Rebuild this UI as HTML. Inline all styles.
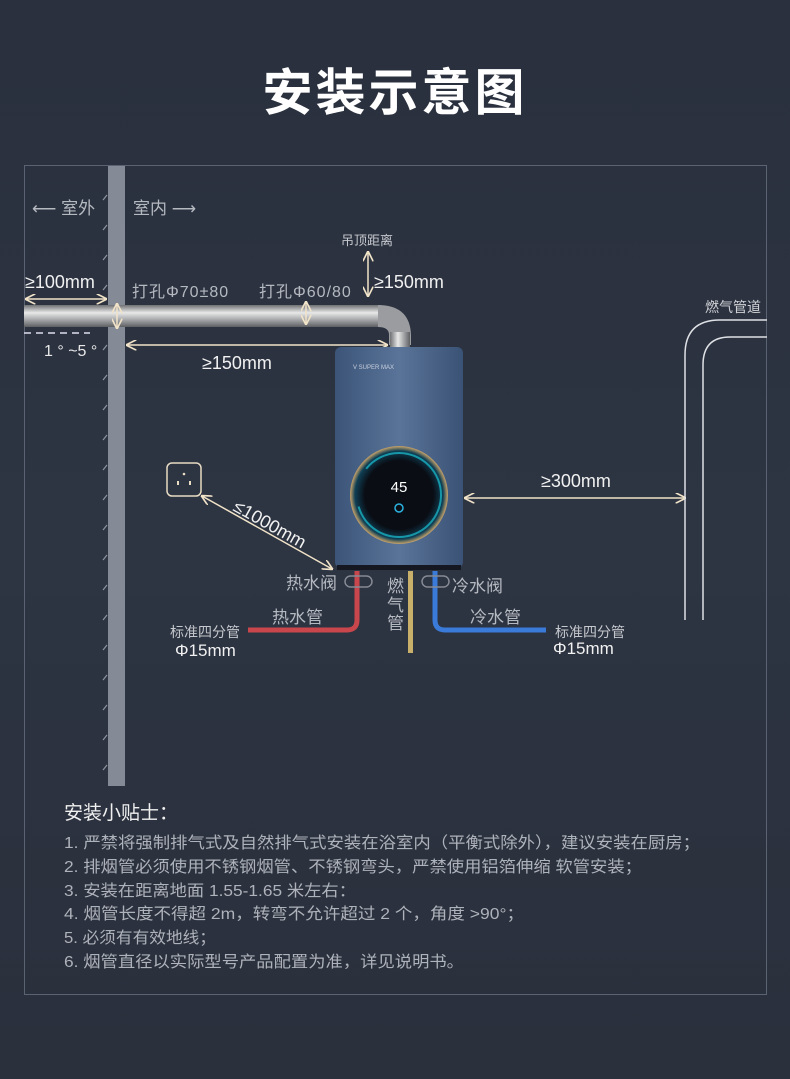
<!DOCTYPE html>
<html><head><meta charset="utf-8"><style>
html,body{margin:0;padding:0}
body{width:790px;height:1079px;background:linear-gradient(180deg,#2a303d 0%,#2d3442 50%,#2a303c 100%);overflow:hidden;position:relative;font-family:"Liberation Sans","Noto Sans CJK SC",sans-serif}
svg{position:absolute;left:0;top:0}
text{font-family:"Liberation Sans","Noto Sans CJK SC",sans-serif}
</style></head><body>
<svg width="790" height="1079" viewBox="0 0 790 1079">
<defs>
<linearGradient id="pipe" x1="0" y1="0" x2="0" y2="1">
<stop offset="0" stop-color="#6e7073"/><stop offset="0.35" stop-color="#e8e8e8"/><stop offset="0.6" stop-color="#b5b6b8"/><stop offset="1" stop-color="#5d5f63"/></linearGradient>
<linearGradient id="pipev" x1="0" y1="0" x2="1" y2="0">
<stop offset="0" stop-color="#6e7073"/><stop offset="0.4" stop-color="#e8e8e8"/><stop offset="1" stop-color="#5d5f63"/></linearGradient>
<linearGradient id="body" x1="0" y1="0" x2="1" y2="0">
<stop offset="0" stop-color="#3b5478"/><stop offset="0.5" stop-color="#5a7499"/><stop offset="1" stop-color="#3a5275"/></linearGradient>
<radialGradient id="disp" cx="0.5" cy="0.5" r="0.5">
<stop offset="0.7" stop-color="#0a0d14"/><stop offset="0.9" stop-color="#0f3f55"/><stop offset="1" stop-color="#c9a46a"/></radialGradient>
<marker id="a" viewBox="0 0 10 10" refX="9" refY="5" markerWidth="7" markerHeight="7" orient="auto-start-reverse"><path d="M0,0 L10,5 L0,10" fill="none" stroke="#f1e3c8" stroke-width="1.6"/></marker>
</defs>
<text x="395" y="110" text-anchor="middle" font-size="50" font-weight="bold" fill="#fff" letter-spacing="3">安装示意图</text>
<rect x="24.5" y="165.5" width="742" height="829" fill="none" stroke="#5b6272" stroke-width="1"/>
<rect x="108" y="166" width="17" height="620" fill="#858b96"/>
<g stroke="#8e949e" stroke-width="1.2">
<line x1="103" y1="200" x2="107" y2="195"/><line x1="103" y1="230" x2="107" y2="225"/><line x1="103" y1="260" x2="107" y2="255"/><line x1="103" y1="290" x2="107" y2="285"/>
<line x1="103" y1="350" x2="107" y2="345"/><line x1="103" y1="380" x2="107" y2="375"/><line x1="103" y1="410" x2="107" y2="405"/><line x1="103" y1="440" x2="107" y2="435"/><line x1="103" y1="470" x2="107" y2="465"/><line x1="103" y1="500" x2="107" y2="495"/><line x1="103" y1="530" x2="107" y2="525"/><line x1="103" y1="560" x2="107" y2="555"/><line x1="103" y1="590" x2="107" y2="585"/><line x1="103" y1="620" x2="107" y2="615"/><line x1="103" y1="650" x2="107" y2="645"/><line x1="103" y1="680" x2="107" y2="675"/><line x1="103" y1="710" x2="107" y2="705"/><line x1="103" y1="740" x2="107" y2="735"/><line x1="103" y1="770" x2="107" y2="765"/></g>
<text x="32" y="214" font-size="17" fill="#b5b9c0">⟵ 室外</text>
<text x="133" y="214" font-size="17" fill="#b5b9c0">室内 ⟶</text>
<rect x="24" y="305" width="356" height="22" fill="url(#pipe)"/>
<path d="M378,305 Q410,305 411,335 L411,345 L389,345 L389,335 Q389,327 378,327 Z" fill="#9a9c9f"/>
<rect x="390" y="332" width="20" height="16" fill="url(#pipev)"/>
<line x1="24" y1="333" x2="90" y2="333" stroke="#dde" stroke-width="1.5" stroke-dasharray="7,5"/>
<text x="44" y="356" font-size="16" fill="#e8e8e8">1 ° ~5 °</text>
<g stroke="#f1e3c8" stroke-width="1.5" fill="none" marker-start="url(#a)" marker-end="url(#a)">
<line x1="26" y1="299" x2="106" y2="299"/>
<line x1="117" y1="304" x2="117" y2="328"/>
<line x1="306" y1="302" x2="306" y2="324"/>
<line x1="368" y1="252" x2="368" y2="296"/>
<line x1="127" y1="345" x2="387" y2="345"/>
<line x1="685" y1="498" x2="465" y2="498"/>
<line x1="202" y1="496" x2="332" y2="569"/>
</g>
<text x="25" y="288" font-size="18" fill="#f1f1f1">≥100mm</text>
<text x="132" y="297" font-size="16" fill="#b5b9c0" letter-spacing="1">打孔Φ70±80</text>
<text x="259" y="297" font-size="16" fill="#b5b9c0" letter-spacing="1">打孔Φ60/80</text>
<text x="341" y="245" font-size="13" fill="#c5c8cd">吊顶距离</text>
<text x="374" y="288" font-size="18" fill="#f1f1f1">≥150mm</text>
<text x="202" y="369" font-size="18" fill="#f1f1f1">≥150mm</text>
<text x="541" y="487" font-size="18" fill="#f1f1f1">≥300mm</text>
<text x="232" y="510" font-size="18" fill="#f1f1f1" transform="rotate(29 232 510)">≤1000mm</text>
<rect x="167" y="463" width="34" height="33" rx="5" fill="none" stroke="#e8dcc4" stroke-width="1.5"/>
<circle cx="184" cy="474" r="1.3" fill="#e8dcc4"/><rect x="177" y="481" width="2" height="4" fill="#e8dcc4"/><rect x="189" y="481" width="2" height="4" fill="#e8dcc4"/>
<path d="M767,320 L720,320 Q685,320 685,355 L685,620" fill="none" stroke="#dfe1e5" stroke-width="1.5"/>
<path d="M767,337 L730,337 Q703,337 703,365 L703,620" fill="none" stroke="#dfe1e5" stroke-width="1.5"/>
<text x="705" y="312" font-size="14" fill="#d0d2d6">燃气管道</text>
<rect x="335" y="347" width="128" height="221" rx="6" fill="url(#body)"/>
<rect x="337" y="565" width="124" height="5" fill="#151820"/>
<text x="353" y="369" font-size="6" fill="#c9d0de">V  SUPER MAX</text>
<circle cx="399" cy="495" r="49" fill="url(#disp)"/>
<circle cx="399" cy="495" r="42" fill="none" stroke="#19b0c0" stroke-width="2" stroke-dasharray="120,40" opacity="0.8"/>
<text x="399" y="492" font-size="15" fill="#fff" text-anchor="middle">45</text>
<circle cx="399" cy="508" r="4" fill="none" stroke="#2bb3e0" stroke-width="1.5"/>
<path d="M357,571 L357,620 Q357,630 347,630 L248,630" fill="none" stroke="#c9464c" stroke-width="5"/>
<path d="M435,571 L435,620 Q435,630 445,630 L546,630" fill="none" stroke="#3a7ad8" stroke-width="5"/>
<rect x="408" y="571" width="5" height="82" fill="#c8b06a"/>
<rect x="345" y="576" width="27" height="11" rx="5.5" fill="none" stroke="#858a94" stroke-width="1.5"/>
<rect x="422" y="576" width="27" height="11" rx="5.5" fill="none" stroke="#858a94" stroke-width="1.5"/>
<text x="286" y="589" font-size="17" fill="#b5b9c0">热水阀</text>
<text x="452" y="592" font-size="17" fill="#b5b9c0">冷水阀</text>
<text x="387" y="592" font-size="17" fill="#b5b9c0">燃</text>
<text x="387" y="611" font-size="17" fill="#b5b9c0">气</text>
<text x="387" y="629" font-size="17" fill="#b5b9c0">管</text>
<text x="272" y="623" font-size="17" fill="#b5b9c0">热水管</text>
<text x="470" y="623" font-size="17" fill="#b5b9c0">冷水管</text>
<text x="170" y="637" font-size="14" fill="#c5c8cd">标准四分管</text>
<text x="175" y="656" font-size="17" fill="#f1f1f1">Φ15mm</text>
<text x="555" y="637" font-size="14" fill="#c5c8cd">标准四分管</text>
<text x="553" y="654" font-size="17" fill="#f1f1f1">Φ15mm</text>
<text x="64" y="819" font-size="19" fill="#f0f0f0">安装小贴士：</text>
<g font-size="16" fill="#aeb2ba">
<text x="64" y="848" textLength="636" lengthAdjust="spacingAndGlyphs">1. 严禁将强制排气式及自然排气式安装在浴室内（平衡式除外），建议安装在厨房；</text>
<text x="64" y="872" textLength="578" lengthAdjust="spacingAndGlyphs">2. 排烟管必须使用不锈钢烟管、不锈钢弯头，严禁使用铝箔伸缩 软管安装；</text>
<text x="64" y="896" textLength="292" lengthAdjust="spacingAndGlyphs">3. 安装在距离地面 1.55-1.65 米左右：</text>
<text x="64" y="919" textLength="460" lengthAdjust="spacingAndGlyphs">4. 烟管长度不得超 2m，转弯不允许超过 2 个，角度 &gt;90°；</text>
<text x="64" y="943" textLength="152" lengthAdjust="spacingAndGlyphs">5. 必须有有效地线；</text>
<text x="64" y="967" textLength="400" lengthAdjust="spacingAndGlyphs">6. 烟管直径以实际型号产品配置为准，详见说明书。</text>
</g>
</svg>
</body></html>
